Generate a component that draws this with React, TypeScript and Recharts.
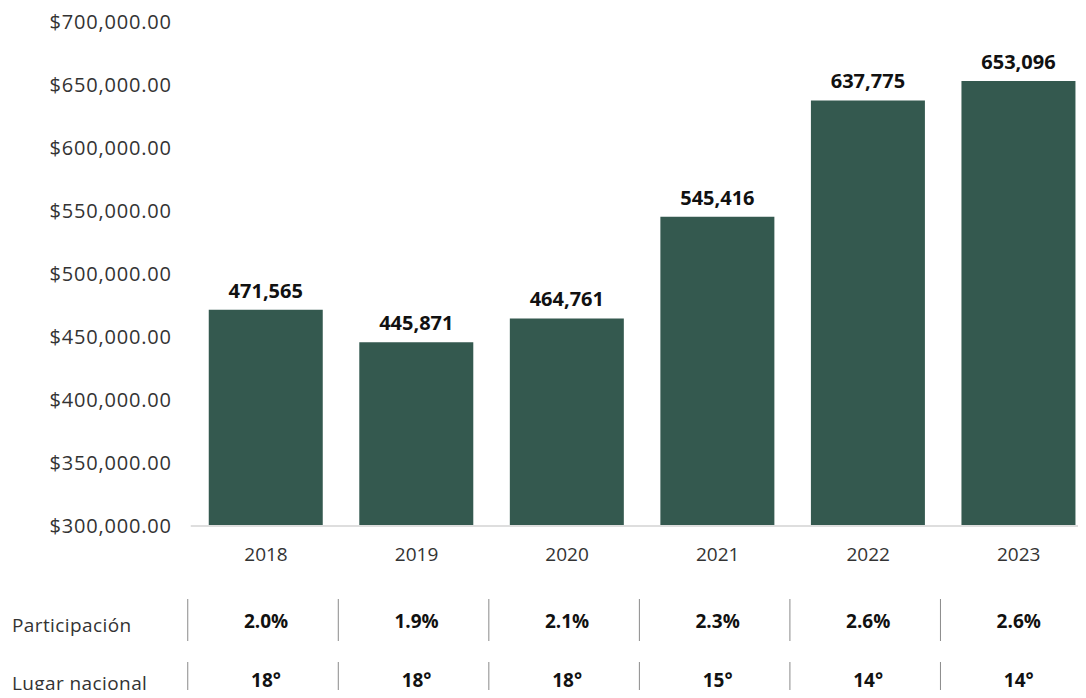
import React from 'react';
import { BarChart, Bar, XAxis, YAxis, LabelList } from 'recharts';

const years = ['2018', '2019', '2020', '2021', '2022', '2023'];
const valores = [471565, 445871, 464761, 545416, 637775, 653096];
const participacion = ['2.0%', '1.9%', '2.1%', '2.3%', '2.6%', '2.6%'];
const lugarNacional = ['18°', '18°', '18°', '15°', '14°', '14°'];
const yTicks = [300000, 350000, 400000, 450000, 500000, 550000, 600000, 650000, 700000];

const data = years.map((year, i) => ({ year, valor: valores[i] }));

const FONT = '"Open Sans", sans-serif';
const BAR_COLOR = '#34594f';

const money = (v: number) =>
  '$' + v.toLocaleString('en-US', { minimumFractionDigits: 2, maximumFractionDigits: 2 });

// builds a tick renderer for one row of the table under the chart
const tableRow = (rowLabel: string, values: string[], textDy: number, labelDy: number, sepTop: number, sepBottom: number) => {
  const RowTick = (props: any) => {
    const { x, y, index, payload } = props;
    const half = payload && payload.offset ? payload.offset : 75;
    return (
      <g>
        {index === 0 && (
          <text x={12} y={y + labelDy} fontSize={19} fill="#333" fontFamily={FONT} letterSpacing={0.4}>
            {rowLabel}
          </text>
        )}
        <line x1={x - half - 3} x2={x - half - 3} y1={y + sepTop} y2={y + sepBottom} stroke="#8a8a8a" strokeWidth={1} />
        <text x={x} y={y + textDy} textAnchor="middle" fontSize={19} fontWeight={700} fill="#111" fontFamily={FONT}>
          {values[index]}
        </text>
      </g>
    );
  };
  return RowTick;
};

const ParticipacionTick = tableRow('Participación', participacion, 30, 34, 1, 43);
const LugarTick = tableRow('Lugar nacional', lugarNacional, 29, 32, 4, 50);

export default function App() {
  return (
    <div style={{ margin: -8, width: 1086, height: 698, overflow: 'hidden', background: '#fff', fontFamily: FONT }}>
      <BarChart
        width={1100}
        height={720}
        data={data}
        margin={{ top: 22, right: 6, left: 0, bottom: 0 }}
        barSize={114}
      >
        <XAxis
          dataKey="year"
          height={64}
          axisLine={{ stroke: '#dedede', strokeWidth: 2 }}
          tickLine={false}
          tickMargin={16}
          tick={{ fontSize: 19, fill: '#333', fontFamily: FONT }}
        />
        <XAxis
          xAxisId="a"
          dataKey="year"
          height={60}
          axisLine={false}
          tickLine={false}
          tick={<ParticipacionTick />}
        />
        <XAxis
          xAxisId="b"
          dataKey="year"
          height={70}
          axisLine={false}
          tickLine={false}
          tick={<LugarTick />}
        />
        <YAxis
          width={190.75}
          domain={[300000, 700000]}
          ticks={yTicks}
          allowDataOverflow
          axisLine={false}
          tickLine={false}
          tickMargin={13}
          tickFormatter={money}
          tick={{ fontSize: 20, fill: '#333', fontFamily: FONT, letterSpacing: 0.8 }}
        />
        <Bar dataKey="valor" fill={BAR_COLOR} isAnimationActive={false}>
          <LabelList
            dataKey="valor"
            position="top"
            offset={12}
            formatter={(v: any) => Number(v).toLocaleString('en-US')}
            style={{ fontSize: 20, fontWeight: 700, fill: '#111', fontFamily: FONT }}
          />
        </Bar>
      </BarChart>
    </div>
  );
}
